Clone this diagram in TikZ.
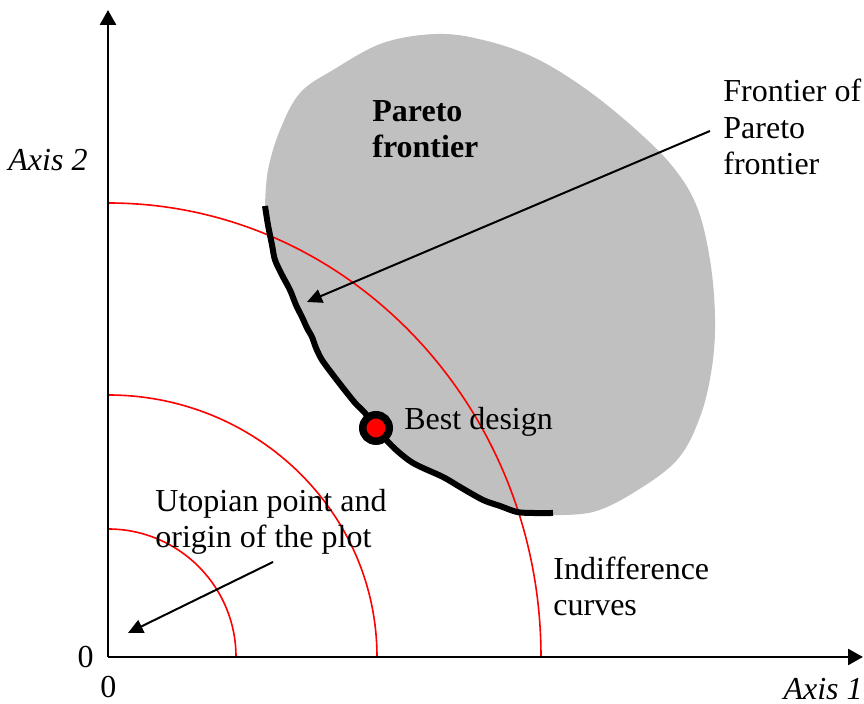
\documentclass[tikz,border=0pt]{standalone}
\usepackage{fontspec}
\setmainfont{Liberation Serif}
\usetikzlibrary{arrows.meta}
\definecolor{silver}{RGB}{192,192,192}
\begin{document}
\begin{tikzpicture}[x=0.5pt,y=0.5pt,
  lbl/.style={inner sep=0pt, font=\fontsize{16}{18.25}\selectfont, align=left, anchor=base west},
  axisline/.style={line width=1.3pt, -{Triangle[length=7.5pt,width=8pt]}},
  pointer/.style={line width=1pt, -{Triangle[length=7.5pt,width=7pt]}},
  indiff/.style={red, line width=0.8pt},
  frontline/.style={line width=3pt, line join=round},
  bestdot/.style={circle, fill=red, draw=black, line width=3.75pt, minimum size=13.25pt, inner sep=0pt}]
\useasboundingbox (0,0) rectangle (864,704);
% Pareto region
\fill[silver] plot[smooth, tension=0.6] coordinates {(265,498) (268,534) (280,574) (300,611) (333,634) (383,661) (437,670) (483,664) (533,647) (583,617) (633,577) (673,537) (697,497) (710,444) (715,387) (712,337) (700,287) (677,244) (633,211) (593,192) (553,189)}
  -- plot[smooth, tension=0.5] coordinates {(553,191) (533,191) (517,192) (500,198) (483,204) (460,217) (443,227) (413,241) (393,257) (376,276) (365,291) (356,300) (347,311) (333,329) (322,344) (316,356) (312,367) (307,376) (302,387) (296,399) (290,414) (282,429) (275,444) (272,459) (268,479) (265,498)} -- cycle;
% coordinates
\coordinate (O) at (108,47);
\coordinate (ytop) at (108,694);
\coordinate (xend) at (863,47);
\coordinate (c3) at (108,501);
\coordinate (c2) at (108,309);
\coordinate (c1) at (108,175);
% indifference curves
\draw[indiff] (c3) arc[start angle=90, end angle=0, x radius=216.5pt, y radius=227pt];
\draw[indiff] (c2) arc[start angle=90, end angle=0, x radius=134.5pt, y radius=131pt];
\draw[indiff] (c1) arc[start angle=90, end angle=0, x radius=64pt, y radius=64pt];
% frontier of the Pareto frontier
\draw[frontline] plot[smooth, tension=0.5] coordinates {(265,498) (268,479) (272,459) (275,444) (282,429) (290,414) (296,399) (302,387) (307,376) (312,367) (316,356) (322,344) (333,329) (347,311) (356,300) (365,291) (376,276) (393,257) (413,241) (443,227) (460,217) (483,204) (500,198) (517,192) (533,191) (553,191)};
\node[bestdot] (best) at (376,276) {};
% axes
\draw[axisline] (O) -- (ytop);
\draw[axisline] (O) -- (xend);
% labels
\node[lbl, font=\fontsize{16}{18.25}\selectfont\itshape] (ax2) at (8,533) {Axis 2};
\node[lbl, font=\fontsize{16}{18.25}\selectfont\itshape, anchor=base east] (ax1) at (863,4) {Axis 1};
\node[lbl, anchor=base east] (zy) at (94,36) {0};
\node[lbl] (zx) at (100,6) {0};
\node[lbl, font=\fontsize{16}{18.25}\selectfont\bfseries] (pareto) at (372,546) {Pareto\\frontier};
\node[lbl] (fof) at (723,529) {Frontier of\\Pareto\\frontier};
\node[lbl] (bestlbl) at (404,274) {Best design};
\node[lbl] (utop) at (155,156) {Utopian point and\\origin of the plot};
\node[lbl] (indl) at (553,88) {Indifference\\curves};
% pointers
\coordinate (fofstart) at (710,573);
\coordinate (foftip) at (307,402);
\coordinate (utstart) at (273,142);
\coordinate (uttip) at (128,71);
\draw[pointer] (fofstart) -- (foftip);
\draw[pointer] (utstart) -- (uttip);
\end{tikzpicture}
\end{document}
